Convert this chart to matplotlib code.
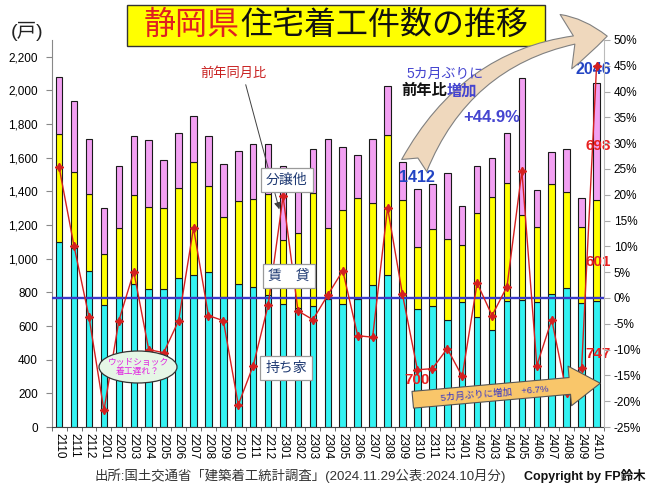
import numpy as np
import matplotlib.pyplot as plt
from matplotlib.patches import Rectangle, Ellipse, FancyArrowPatch
from matplotlib.ticker import FuncFormatter

plt.rcParams['font.family'] = ['Liberation Sans', 'Noto Sans CJK JP', 'DejaVu Sans']

# data (units: 戸)
months = ['2110', '2111', '2112', '2201', '2202', '2203', '2204', '2205', '2206', '2207',
          '2208', '2209', '2210', '2211', '2212', '2301', '2302', '2303', '2304', '2305',
          '2306', '2307', '2308', '2309', '2310', '2311', '2312', '2401', '2402', '2403',
          '2404', '2405', '2406', '2407', '2408', '2409', '2410']
owner = [1102, 1062, 927, 725, 775, 850, 819, 819, 888, 904,
         923, 775, 852, 834, 785, 730, 706, 719, 759, 730,
         759, 844, 904, 775, 700, 719, 636, 745, 652, 577,
         749, 755, 741, 791, 825, 735, 747]
rental = [640, 456, 458, 304, 410, 531, 491, 481, 531, 670,
          512, 472, 494, 520, 599, 382, 446, 674, 422, 560,
          601, 486, 832, 575, 372, 458, 480, 337, 622, 792,
          700, 502, 450, 654, 571, 456, 601]
other = [337, 420, 327, 275, 367, 349, 396, 288, 331, 277,
         295, 319, 295, 330, 295, 442, 361, 260, 531, 377,
         259, 382, 293, 226, 340, 268, 392, 234, 278, 229,
         297, 820, 218, 192, 257, 169, 698]
# 前年同月比 (%)
yoy = [25.3, 10.0, -3.7, -21.8, -4.4, 5.1, -10.0, -10.6, -4.4, 13.6,
       -3.4, -4.4, -20.7, -13.1, -1.4, 19.7, -2.5, -4.2, 0.6, 5.3,
       -7.3, -7.6, 17.5, 0.7, -13.9, -13.7, -9.8, -15.2, 2.9, -3.4,
       2.2, 24.6, -13.1, -4.2, -18.5, -13.6, 44.9]

owner = np.array(owner)
rental = np.array(rental)
other = np.array(other)
total = owner + rental + other
x = np.arange(len(months))

W, H = 650, 487
def fx(px):
    return px / W
def fy(py):
    return 1 - py / H

fig = plt.figure(figsize=(6.5, 4.87), dpi=100)
ax = fig.add_axes([fx(51.7), fy(427), (604 - 51.7) / W, (427 - 40) / H])

bw = 0.44
ax.bar(x, owner, width=bw, color='#33F2F2', edgecolor='#1a1a1a', lw=0.8, zorder=2)
ax.bar(x, rental, width=bw, bottom=owner, color='#FFFF00', edgecolor='#1a1a1a', lw=0.8, zorder=2)
ax.bar(x, other, width=bw, bottom=owner + rental, color='#F2A0F2', edgecolor='#1a1a1a', lw=0.8, zorder=2)

ax.set_xlim(-0.5, len(months) - 0.5)
ax.set_ylim(0, 2300)
ax.set_yticks(range(0, 2201, 200))
ax.yaxis.set_major_formatter(FuncFormatter(lambda v, p: f'{int(v):,}'))
ax.set_xticks(x)
ax.set_xticklabels(months, rotation=270, fontsize=8.5)
ax.set_xticks(np.arange(-0.5, len(months), 1), minor=True)
ax.tick_params(axis='x', which='major', length=0, pad=4)
ax.tick_params(axis='x', which='minor', length=3, color='#555555')
ax.tick_params(axis='y', length=4, color='#888888', labelsize=8.5, pad=6)
ax.spines['top'].set_visible(False)
ax.spines['right'].set_visible(False)
ax.spines['left'].set_color('#888888')
ax.spines['bottom'].set_color('#444444')

ax2 = ax.twinx()
ax2.set_ylim(-25, 50)
ax2.set_yticks(range(-25, 51, 5))
ax2.yaxis.set_major_formatter(FuncFormatter(lambda v, p: f'{int(v)}%'))
ax2.tick_params(axis='y', length=4, color='#aaaaaa', labelsize=8.5, pad=3)
for s in ['top', 'left', 'bottom']:
    ax2.spines[s].set_visible(False)
ax2.spines['right'].set_color('#bbbbbb')
ax2.axhline(0, color='#3A3AC8', lw=1.7, zorder=1)
ax2.plot(x, yoy, color='#D42020', lw=1.0, marker=(4, 1, 0), ms=6, zorder=3)

# value labels
ax.text(24, total[24] + 70, f'{total[24]}', ha='center', va='center', color='#2244C4',
        fontsize=11.5, fontweight='bold', zorder=6)
ax.text(35.8, total[36] + 77, f'{total[36]}', ha='center', va='center', color='#2244C4',
        fontsize=11.5, fontweight='bold', zorder=6)
ax.text(36.1, owner[36] + rental[36] + other[36] * 0.46, f'{other[36]}', ha='center', va='center',
        color='#E82020', fontsize=11, fontweight='bold', zorder=6)
ax.text(36.1, owner[36] + rental[36] * 0.39, f'{rental[36]}', ha='center', va='center',
        color='#E82020', fontsize=11, fontweight='bold', zorder=6)
ax.text(36.1, owner[36] * 0.58, f'{owner[36]}', ha='center', va='center',
        color='#E82020', fontsize=11, fontweight='bold', zorder=6)
ax.text(24, owner[24] * 0.4, f'{owner[24]}', ha='center', va='center',
        color='#E82020', fontsize=11, fontweight='bold', zorder=6)

# title
fig.add_artist(Rectangle((fx(127), fy(46)), (545 - 127) / W, 41 / H, transform=fig.transFigure,
                         fc='#FFFF00', ec='#333333', lw=1))
fig.text(fx(240), fy(26), '静岡県', ha='right', va='center', color='#E02020', fontsize=23)
fig.text(fx(240), fy(26), '住宅着工件数の推移', ha='left', va='center', color='#111111', fontsize=23)
fig.text(fx(27), fy(31), '(戸)', ha='center', va='center', fontsize=14, color='#222222')

# 前年同月比 label with pointer
fig.text(fx(233), fy(74), '前年同月比', ha='center', va='center', color='#C81E1E', fontsize=9.5)
fig.add_artist(FancyArrowPatch((fx(245), fy(82)), (fx(280), fy(212)), transform=fig.transFigure,
                               arrowstyle='-|>,head_length=4,head_width=2', color='#404040', lw=0.7))

# category boxes
box = dict(boxstyle='square,pad=0.35', fc='white', ec='#9A9A9A', lw=0.9)
fig.text(fx(287), fy(180), '分譲他', ha='center', va='center', fontsize=10, color='#1F3A73', bbox=box)
fig.text(fx(289), fy(276), '賃　貸', ha='center', va='center', fontsize=10, color='#1F3A73', bbox=box)
fig.text(fx(286), fy(368), '持ち家', ha='center', va='center', fontsize=10, color='#1F3A73', bbox=box)

# wood shock note
fig.add_artist(Ellipse((fx(138), fy(367)), 78 / W, 32 / H, transform=fig.transFigure,
                       fc='#E6F6E6', ec='#333333', lw=0.9))
fig.text(fx(138), fy(367), 'ウッドショック\n着工遅れ？', ha='center', va='center', fontsize=6.3,
         color='#E020E0', linespacing=1.1)

# big curved arrow and notes
fig.add_artist(FancyArrowPatch((fx(413), fy(168)), (fx(610), fy(36)), transform=fig.transFigure,
                               arrowstyle='fancy,head_length=1.5,head_width=2.0,tail_width=1.0',
                               mutation_scale=20, connectionstyle='arc3,rad=-0.3',
                               fc='#EFD8BD', ec='#808080', lw=0.8))
fig.text(fx(445), fy(74), '5カ月ぶりに', ha='center', va='center', fontsize=10, color='#4545D0')
fig.text(fx(447), fy(91), '前年比', ha='right', va='center', fontsize=11, color='#111111',
         fontweight='bold')
fig.text(fx(447), fy(91), '増加', ha='left', va='center', fontsize=11, color='#4545D0',
         fontweight='bold')
fig.text(fx(492), fy(117), '+44.9%', ha='center', va='center', fontsize=12, color='#4545D0',
         fontweight='bold')

# bottom arrow
fig.add_artist(FancyArrowPatch((fx(410), fy(400)), (fx(603), fy(383)), transform=fig.transFigure,
                               arrowstyle='simple,head_length=1.0,head_width=1.3,tail_width=0.55',
                               mutation_scale=22, fc='#F9C66A', ec='#555555', lw=0.8))
fig.text(fx(495), fy(393), '5カ月ぶりに増加　+6.7%', ha='center', va='center', fontsize=6.8,
         color='#3535C8', rotation=5)

# footer
fig.text(fx(95), fy(476), '出所:国土交通省「建築着工統計調査」(2024.11.29公表:2024.10月分)',
         ha='left', va='center', fontsize=9.6, color='#333333')
fig.text(fx(646), fy(476), 'Copyright by FP鈴木', ha='right', va='center', fontsize=9,
         color='#111111', fontweight='bold')

fig.savefig('out.png', dpi=100)
